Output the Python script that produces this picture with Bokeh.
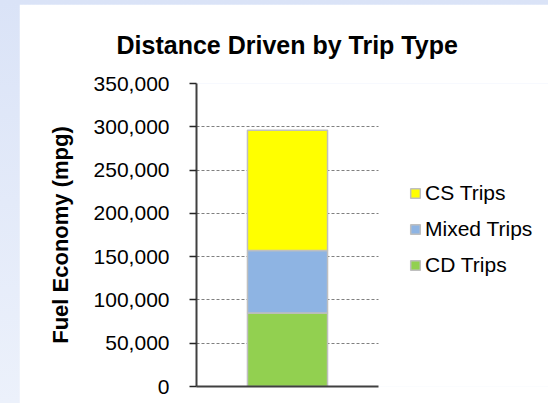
from bokeh.plotting import figure
from bokeh.models import (Range1d, FixedTicker, NumeralTickFormatter,
                          Legend, LegendItem, Column)
from bokeh.embed import file_html
from bokeh.resources import INLINE

categories = ["All Trips"]
series_names = ["CD Trips", "Mixed Trips", "CS Trips"]
cd_trips = [85000]
mixed_trips = [72000]
cs_trips = [139000]
colors = ["#92D050", "#8EB4E3", "#FFFF00"]
y_ticks = [0, 50000, 100000, 150000, 200000, 250000, 300000, 350000]

data = {"x": list(range(len(categories))), "cat": categories,
        "CD Trips": cd_trips, "Mixed Trips": mixed_trips, "CS Trips": cs_trips}

FONT = "Liberation Sans"

# plotting area covers x in [-0.5, 0.5]; the frame extends further right to host the legend
x_lo, x_hi = -0.5, len(categories) - 0.5
frame_px, plot_px = 352, 182
p = figure(width=529, height=399,
           x_range=Range1d(x_lo, x_lo + (x_hi - x_lo) * frame_px / plot_px),
           y_range=Range1d(0, 350000), output_backend="svg", toolbar_location=None,
           min_border_left=177, min_border_right=0, min_border_top=79, min_border_bottom=17,
           title="Distance Driven by Trip Type")
p.margin = (4, 0, 0, 19)
p.outline_line_color = None
p.background_fill_color = "white"
p.border_fill_color = "white"

p.title.align = "left"
p.title.offset = -80
p.title.vertical_align = "top"
p.title.text_font = FONT
p.title.text_font_size = "25px"
p.title.text_font_style = "bold"
p.title.text_color = "black"
p.title.standoff = 46

renderers = p.vbar_stack(series_names, x="x", width=0.44, source=data, color=colors,
                         line_color="#BFBFBF", line_width=1.5)

# y axis
p.yaxis.ticker = FixedTicker(ticks=y_ticks)
p.yaxis.formatter = NumeralTickFormatter(format="0,0")
p.yaxis.major_label_text_font = FONT
p.yaxis.major_label_text_font_size = "21px"
p.yaxis.major_label_text_color = "black"
p.yaxis.major_label_standoff = 20
p.yaxis.major_tick_out = 7
p.yaxis.major_tick_in = 0
p.yaxis.major_tick_line_color = "#262626"
p.yaxis.major_tick_line_width = 1.5
p.yaxis.minor_tick_line_color = None
p.yaxis.axis_line_color = "#404040"
p.yaxis.axis_line_width = 2
p.yaxis.axis_label = "Fuel Economy (mpg)"
p.yaxis.axis_label_text_font = FONT
p.yaxis.axis_label_text_font_size = "22px"
p.yaxis.axis_label_text_font_style = "bold"
p.yaxis.axis_label_text_color = "black"
p.yaxis.axis_label_standoff = 18

# x axis (line only, limited to the plotting area)
p.xaxis.ticker = FixedTicker(ticks=[])
p.xaxis.bounds = (x_lo, x_hi)
p.xaxis.major_tick_line_color = None
p.xaxis.minor_tick_line_color = None
p.xaxis.axis_line_color = "#404040"
p.xaxis.axis_line_width = 2

# grids
p.xgrid.grid_line_color = None
p.ygrid.ticker = FixedTicker(ticks=y_ticks[1:])
p.ygrid.cross_bounds = (x_lo, x_hi)
p.ygrid.grid_line_color = "#808080"
p.ygrid.grid_line_dash = "3 2"
p.ygrid.grid_line_width = 1

items = [LegendItem(label=series_names[i], renderers=[renderers[i]]) for i in [2, 1, 0]]
legend = Legend(items=items, location=(213, 109), orientation="vertical",
                glyph_width=12, glyph_height=12, label_standoff=4,
                label_text_font=FONT, label_text_font_size="21px", label_text_color="black",
                label_height=24, spacing=12, padding=0, margin=0,
                border_line_color=None, background_fill_alpha=0)
p.add_layout(legend, "center")

layout = Column(p, width=548, height=403, sizing_mode="fixed",
                styles={"background": "linear-gradient(to bottom, #DAE3F7, #ECF1FB)"})

open("out.html", "w").write(file_html(layout, INLINE))
